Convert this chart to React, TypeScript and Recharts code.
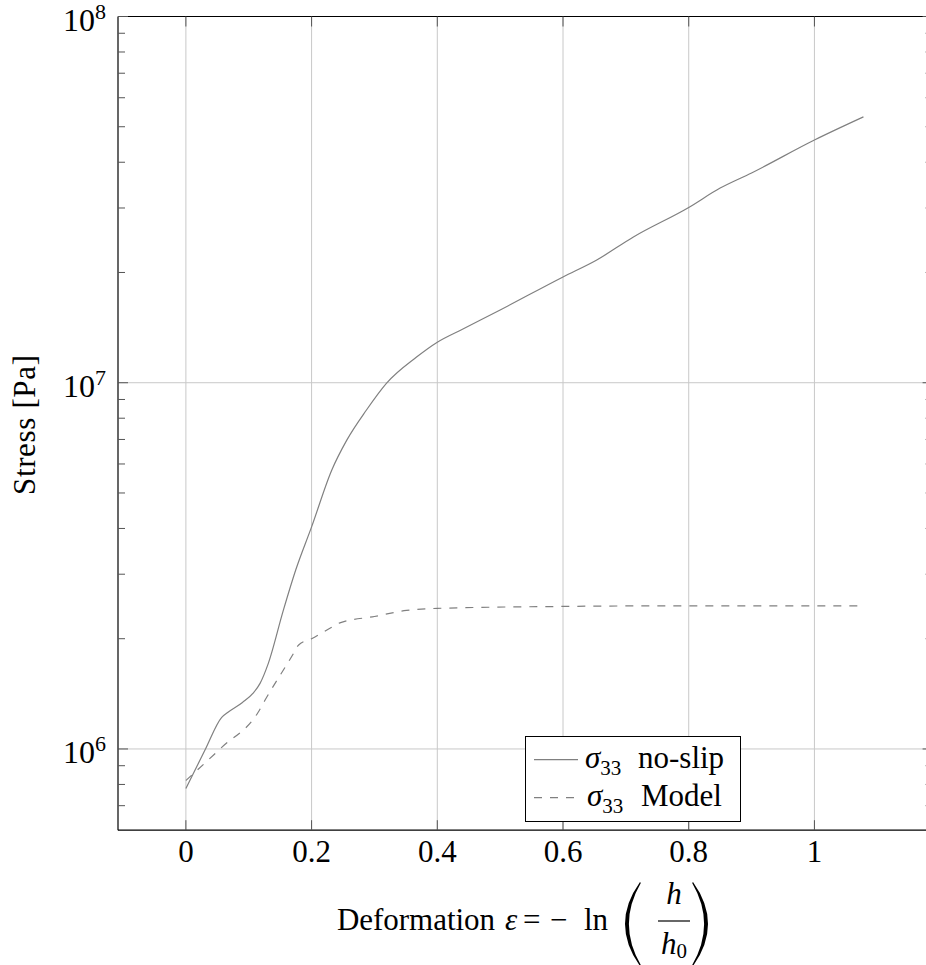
import { LineChart, Line, XAxis, YAxis, ReferenceLine, Legend } from "recharts";

if (typeof document !== "undefined") {
  document.body.style.margin = "0";
}

const FONT = '"Liberation Serif", "Times New Roman", serif';
const LINE_COLOR = "#808080";
const GRID_COLOR = "#c8c8c8";
const TICK_COLOR = "#555";

// deformation (x) and stress in Pa
const noSlipStrain = [
  0, 0.03, 0.057, 0.067, 0.09, 0.107, 0.118, 0.131, 0.155, 0.175, 0.2, 0.232, 0.256, 0.287,
  0.319, 0.367, 0.4, 0.44, 0.5, 0.6, 0.653, 0.712, 0.8, 0.85, 0.9, 1.0, 1.078,
];
const noSlipStress = [
  7.8e5, 9.9e5, 1.22e6, 1.26e6, 1.34e6, 1.42e6, 1.51e6, 1.71e6, 2.39e6, 3.09e6, 4.04e6, 5.77e6,
  6.97e6, 8.41e6, 9.96e6, 1.175e7, 1.29e7, 1.4e7, 1.58e7, 1.945e7, 2.16e7, 2.5e7, 3.01e7, 3.4e7,
  3.74e7, 4.6e7, 5.32e7,
];
const modelStrain = [0, 0.057, 0.115, 0.126, 0.171, 0.179, 0.2, 0.232, 0.245, 0.3, 0.351, 0.4, 0.6, 0.8, 1.07];
const modelStress = [
  8.2e5, 1.01e6, 1.26e6, 1.36e6, 1.82e6, 1.92e6, 2.0e6, 2.15e6, 2.21e6, 2.3e6, 2.39e6, 2.42e6,
  2.45e6, 2.46e6, 2.46e6,
];

const seriesNames = ["no-slip", "Model"];
const xTicks = [0, 0.2, 0.4, 0.6, 0.8, 1];
const yMajorTicks = [1e6, 1e7, 1e8];
const yMinorTicks = [
  7e5, 8e5, 9e5,
  2e6, 3e6, 4e6, 5e6, 6e6, 7e6, 8e6, 9e6,
  2e7, 3e7, 4e7, 5e7, 6e7, 7e7, 8e7, 9e7,
];
const yGridLines = [1e6, 1e7];

const noSlipData = noSlipStrain.map((x, i) => ({ x, y: noSlipStress[i] }));
const modelData = modelStrain.map((x, i) => ({ x, y: modelStress[i] }));

const W = 926;
const H = 965;
const PLOT_TOP = 16.5;
const PLOT_RIGHT = 932.6;
const MAJOR_LEN = 10;
const MINOR_LEN = 7;

function XTick(props: any) {
  const { x, y, payload } = props;
  return (
    <g>
      <line x1={x} y1={y} x2={x} y2={y - MAJOR_LEN} stroke={TICK_COLOR} />
      <line x1={x} y1={PLOT_TOP} x2={x} y2={PLOT_TOP + MAJOR_LEN} stroke={TICK_COLOR} />
      <text x={x} y={y + 32} textAnchor="middle" fontFamily={FONT} fontSize={31} fill="#000">
        {String(payload.value)}
      </text>
    </g>
  );
}

function YTick(props: any) {
  const { x, y, payload } = props;
  const v = payload.value as number;
  const major = yMajorTicks.includes(v);
  const len = major ? MAJOR_LEN : MINOR_LEN;
  const exp = Math.round(Math.log10(v));
  return (
    <g>
      <line x1={x} y1={y} x2={x + len} y2={y} stroke={TICK_COLOR} />
      <line x1={PLOT_RIGHT - len} y1={y} x2={PLOT_RIGHT} y2={y} stroke={TICK_COLOR} />
      {major && (
        <text x={x - 12} y={y + 14} textAnchor="end" fontFamily={FONT} fontSize={32} fill="#000">
          10
          <tspan fontSize={22} dy={-12}>
            {exp}
          </tspan>
        </text>
      )}
    </g>
  );
}

function XLabel() {
  const base = 930;
  return (
    <g fontFamily={FONT} fill="#000" fontSize={31}>
      <text x={337} y={base} textLength={158} lengthAdjust="spacing">
        Deformation
      </text>
      <text x={505} y={base} fontStyle="italic">ε</text>
      <text x={523} y={base}>=</text>
      <text x={550} y={base}>−</text>
      <text x={584} y={base}>ln</text>
      <path d="M640,882 Q610,924 640,966 L640.8,965 Q617,924 640.8,883 Z" />
      <text x={674} y={904} textAnchor="middle" fontStyle="italic">h</text>
      <line x1={658} x2={690} y1={921} y2={921} stroke="#000" strokeWidth={1.2} />
      <text x={674} y={954} textAnchor="middle" fontStyle="italic">
        h
        <tspan fontStyle="normal" fontSize={21} dy={4}>
          0
        </tspan>
      </text>
      <path d="M693,882 Q723,924 693,966 L692.2,965 Q716,924 692.2,883 Z" />
    </g>
  );
}

function YLabel() {
  return (
    <text
      x={35}
      y={425}
      transform="rotate(-90, 35, 425)"
      textAnchor="middle"
      fontFamily={FONT}
      fontSize={31}
      fill="#000"
      textLength={140}
      lengthAdjust="spacing"
    >
      Stress [Pa]
    </text>
  );
}

function LegendBox(props: any) {
  const items = [...(props.payload || [])].sort(
    (a: any, b: any) => seriesNames.indexOf(a.value) - seriesNames.indexOf(b.value)
  );
  return (
    <svg width={216} height={86} style={{ display: "block" }}>
      <rect x={0.5} y={0.5} width={215} height={85} fill="#fff" stroke="#000" />
      {items.map((entry: any, i: number) => {
        const cy = 23.6 + i * 38;
        const base = 32.3 + i * 38;
        return (
          <g key={entry.value}>
            <line
              x1={9}
              x2={53}
              y1={cy}
              y2={cy}
              stroke={entry.color}
              strokeWidth={1.2}
              strokeDasharray={entry.payload?.strokeDasharray}
            />
            <text x={60 + i * 2} y={base} fontFamily={FONT} fontSize={31} fill="#000">
              <tspan fontStyle="italic">σ</tspan>
              <tspan fontSize={21} dy={7}>
                33
              </tspan>
              <tspan x={113 + i * 3} dy={-7}>
                {entry.value}
              </tspan>
            </text>
          </g>
        );
      })}
    </svg>
  );
}

export default function App() {
  return (
    <div style={{ width: W, height: H, overflow: "hidden", background: "#fff" }}>
      <LineChart width={W} height={H} margin={{ top: PLOT_TOP, right: W - PLOT_RIGHT, bottom: 0, left: 0 }}>
        <XAxis
          dataKey="x"
          type="number"
          domain={[-0.108, 1.188]}
          allowDataOverflow
          ticks={xTicks}
          interval={0}
          height={134.8}
          tickSize={0}
          tickMargin={0}
          tickLine={false}
          tick={XTick}
          axisLine={{ stroke: "#000", strokeWidth: 1.2 }}
          label={XLabel}
        />
        <YAxis
          type="number"
          scale="log"
          domain={[6e5, 1e8]}
          allowDataOverflow
          ticks={[...yMinorTicks, ...yMajorTicks]}
          interval={0}
          width={118}
          tickSize={0}
          tickMargin={0}
          tickLine={false}
          tick={YTick}
          axisLine={{ stroke: "#000", strokeWidth: 1.2 }}
          label={YLabel}
        />
        {xTicks.map((v) => (
          <ReferenceLine key={"gx" + v} x={v} stroke={GRID_COLOR} strokeWidth={1} />
        ))}
        {yGridLines.map((v) => (
          <ReferenceLine key={"gy" + v} y={v} stroke={GRID_COLOR} strokeWidth={1} />
        ))}
        <ReferenceLine y={1e8} stroke="#000" strokeWidth={1.2} />
        <Line
          data={noSlipData}
          dataKey="y"
          name={seriesNames[0]}
          type="monotone"
          dot={false}
          stroke={LINE_COLOR}
          strokeWidth={1.2}
          isAnimationActive={false}
        />
        <Line
          data={modelData}
          dataKey="y"
          name={seriesNames[1]}
          type="monotone"
          dot={false}
          stroke={LINE_COLOR}
          strokeWidth={1.2}
          strokeDasharray="8 8"
          isAnimationActive={false}
        />
        <Legend
          layout="horizontal"
          verticalAlign="middle"
          align="center"
          content={LegendBox}
          wrapperStyle={{ left: 525, top: 736, width: 216, height: 86 }}
        />
      </LineChart>
    </div>
  );
}
